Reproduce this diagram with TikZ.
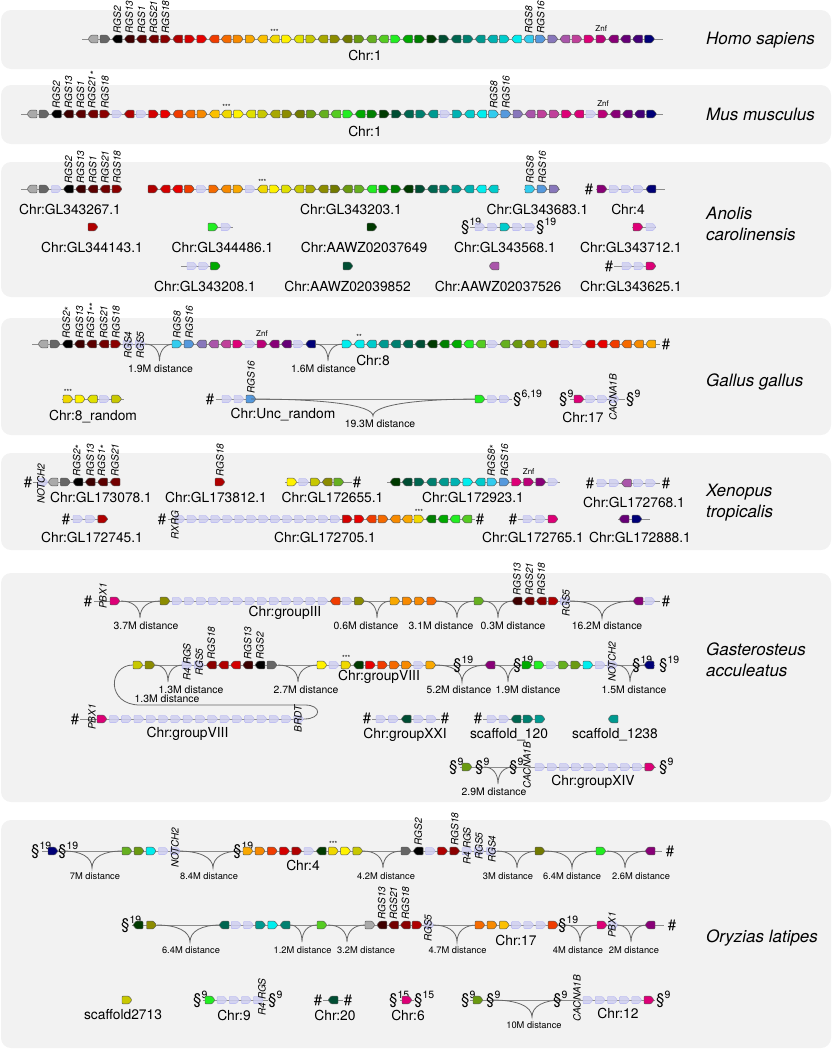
\documentclass[tikz,border=0pt]{standalone}
\usepackage{fontspec}
\setmainfont{TeX Gyre Heros}

% gene colours, ordered as on human Chr:1
\definecolor{g1}{HTML}{AAAAAA}\definecolor{g2}{HTML}{666666}\definecolor{g3}{HTML}{000000}
\definecolor{g4}{HTML}{3D0000}\definecolor{g5}{HTML}{5C0000}\definecolor{g6}{HTML}{730000}
\definecolor{g7}{HTML}{8B0000}\definecolor{g8}{HTML}{B00000}\definecolor{g9}{HTML}{D40000}
\definecolor{g10}{HTML}{E80000}\definecolor{g11}{HTML}{F03C00}\definecolor{g12}{HTML}{F56A00}
\definecolor{g13}{HTML}{F78A00}\definecolor{g14}{HTML}{F9A800}\definecolor{g15}{HTML}{FBC000}
\definecolor{g16}{HTML}{F0D800}\definecolor{g17}{HTML}{FFF200}\definecolor{g18}{HTML}{E0E000}
\definecolor{g19}{HTML}{C8C800}\definecolor{g20}{HTML}{A8A800}\definecolor{g21}{HTML}{8C8C00}
\definecolor{g22}{HTML}{727A00}\definecolor{g23}{HTML}{6A9A10}\definecolor{g24}{HTML}{66B020}
\definecolor{g25}{HTML}{55CC22}\definecolor{g26}{HTML}{22EE22}\definecolor{g27}{HTML}{00AA00}
\definecolor{g28}{HTML}{008000}\definecolor{g29}{HTML}{003A00}\definecolor{g30}{HTML}{004D33}
\definecolor{g31}{HTML}{006650}\definecolor{g32}{HTML}{008070}\definecolor{g33}{HTML}{009A90}
\definecolor{g34}{HTML}{00B2B2}\definecolor{g35}{HTML}{00CCCC}\definecolor{g36}{HTML}{00EEEE}
\definecolor{g37}{HTML}{33CCEE}\definecolor{g38}{HTML}{5599DD}\definecolor{g39}{HTML}{8877BB}
\definecolor{g40}{HTML}{AA55AA}\definecolor{g41}{HTML}{C0409A}\definecolor{g42}{HTML}{DD0077}
\definecolor{g43}{HTML}{BB0077}\definecolor{g44}{HTML}{880077}\definecolor{g45}{HTML}{660077}
\definecolor{g46}{HTML}{440077}\definecolor{g47}{HTML}{000077}
\definecolor{gh}{HTML}{CFCFF0}
\definecolor{panelgray}{HTML}{F2F2F2}
\definecolor{linegray}{HTML}{8C8C8C}
\definecolor{bracegray}{HTML}{666666}

% a row of genes: start x, y, pitch, list (colour index, minus = reverse, 0 = missing)
\newcommand{\genes}[4]{%
  \foreach \c [count=\i from 0] in {#4}{%
    \pgfmathsetmacro{\gx}{#1+\i*#3}%
    \pgfmathtruncatemacro{\ga}{abs(\c)}%
    \pgfmathtruncatemacro{\gs}{\c<0 ? -1 : 1}%
    \ifnum\ga=0
      \path[ghost] ({\gx-5},{#2-3.6}) -- ({\gx+2},{#2-3.6}) -- ({\gx+5},#2)
        -- ({\gx+2},{#2+3.6}) -- ({\gx-5},{#2+3.6}) -- cycle;
    \else
      \path[gene, fill=g\ga] ({\gx-5*\gs},{#2-3.8}) -- ({\gx+2*\gs},{#2-3.8}) -- ({\gx+5*\gs},#2)
        -- ({\gx+2*\gs},{#2+3.8}) -- ({\gx-5*\gs},{#2+3.8}) -- cycle;
    \fi}}
\newcommand{\glab}[3]{\node[glabel] at (#1,{#2-5}) {#3};}
\newcommand{\gmid}[3]{\node[gname] at (#1,#2) {#3};}
\newcommand{\starmark}[3]{\node[tiny] at (#1,{#2-7}) {#3};}
\newcommand{\znf}[2]{\node[tiny, font=\fontsize{8}{8}\selectfont] at (#1,{#2-10}) {Znf};}
\newcommand{\secmark}[3]{\node[sym, anchor=base west] at ({#1-4},{#2+4}) {§\textsuperscript{#3}};}
\newcommand{\hashmark}[2]{\node[sym, anchor=base] at (#1,{#2+5}) {\#};}
\newcommand{\lst}{\raisebox{-0.45ex}{*}}
\newcommand{\lsst}{\raisebox{-0.45ex}{**}}
% x1, cusp x, x2, y, label x, label
\newcommand{\distbrace}[6]{%
  \draw[brace] (#1,#4) .. controls ({#1+0.6*(#2-#1)},#4) and (#2,{#4+6}) .. (#2,{#4+17})
    .. controls (#2,{#4+6}) and ({#3-0.6*(#3-#2)},#4) .. (#3,#4);
  \node[dlabel] at (#5,{#4+25}) {#6};}

\begin{document}
\begin{tikzpicture}[x=1pt, y=-1pt,
  panel/.style={fill=panelgray, rounded corners=10pt},
  chline/.style={draw=linegray, line width=0.7pt},
  gene/.style={draw=black!65, line width=0.45pt, rounded corners=0.8pt},
  ghost/.style={fill=gh, fill opacity=0.85, draw=gh!85!blue, line width=0.3pt, rounded corners=0.8pt},
  chr/.style={font=\fontsize{13.8}{15}\selectfont, inner sep=0pt},
  sp/.style={font=\fontsize{17}{21}\selectfont\itshape, anchor=west, inner sep=0pt},
  gname/.style={font=\fontsize{10}{10}\selectfont\itshape, rotate=90, inner sep=0.5pt},
  glabel/.style={gname, anchor=west},
  dlabel/.style={font=\fontsize{10.4}{11}\selectfont, inner sep=0pt},
  brace/.style={draw=bracegray, line width=0.8pt},
  sym/.style={font=\fontsize{15}{15}\selectfont, inner sep=0pt},
  tiny/.style={font=\fontsize{7}{7}\selectfont, inner sep=0pt}]
\useasboundingbox (0,0) rectangle (832,1050);
\foreach \ya/\yb in {10/69,85/144,162/297,318/435,453/550,573/802,820/1048}
  \fill[panel] (1,\ya) rectangle (831,\yb);

% Homo sapiens
\draw[chline] (82,39) -- (663,39);
\genes{93}{39}{12.1}{-1,2,-3,-4,-5,-6,7,-8,9,10,-11,-12,13,14,-15,-16,17,-18,19,-20,21,-22,23,-24,-25,26,-27,28,29,30,-31,32,-33,-34,35,-36,-37,38,39,-40,41,42,43,-44,-45,-46,47}
\glab{117.2}{39}{RGS2} \glab{129.3}{39}{RGS13} \glab{141.4}{39}{RGS1}
\glab{153.5}{39}{RGS21} \glab{165.6}{39}{RGS18}
\glab{528.6}{39}{RGS8} \glab{540.7}{39}{RGS16}
\starmark{274.5}{39}{***}
\znf{601.2}{39}
\node[chr] (hschr) at (365,55) {Chr:1};
\node[sp] (hs) at (706,40) {Homo sapiens};

% Mus musculus
\draw[chline] (21,114) -- (663,114);
\genes{32}{114}{12.15}{-1,2,-3,-4,-5,-6,7,0,-8,0,9,10,-11,-12,13,-15,-16,17,-18,19,-20,21,-22,23,-24,-25,26,-27,28,29,30,-31,32,-33,0,34,-35,-36,37,38,39,-40,41,41,42,-42,0,43,-44,-45,-46,47}
\glab{56.3}{114}{RGS2} \glab{68.45}{114}{RGS13} \glab{80.6}{114}{RGS1}
\glab{92.75}{114}{RGS21\lst} \glab{104.9}{114}{RGS18}
\glab{493.7}{114}{RGS8} \glab{505.85}{114}{RGS16}
\starmark{226.4}{114}{***}
\znf{603.05}{114}
\node[chr] (mmchr) at (365,131) {Chr:1};
\node[sp] (mm) at (706,114) {Mus musculus};

% Anolis carolinensis
\draw[chline] (21,189) -- (122,189);
\genes{32}{189}{12.15}{-1,2,0,-3,-4,-5,-6,7}
\glab{68.45}{189}{RGS2} \glab{80.6}{189}{RGS13} \glab{92.75}{189}{RGS1}
\glab{104.9}{189}{RGS21} \glab{117.05}{189}{RGS18}
\node[chr] (ac1) at (70,209) {Chr:GL343267.1};
\draw[chline] (148,189) -- (500,189);
\genes{153}{189}{12.15}{8,-9,-10,11,0,12,-13,14,0,-16,17,18,-19,20,-21,22,-23,24,-26,27,28,-29,30,-31,32,33,-34,-36,-35}
\starmark{262.35}{189}{***}
\node[chr] (ac2) at (351,209) {Chr:GL343203.1};
\draw[chline] (524,189) -- (560,189);
\genes{530}{189}{12.15}{37,38,39}
\glab{530}{189}{RGS8} \glab{542.15}{189}{RGS16}
\node[chr] (ac3) at (537.5,209) {Chr:GL343683.1};
\hashmark{589}{189}
\draw[chline] (596,189) -- (665,189);
\genes{602}{189}{12.2}{44,0,0,0,-47}
\node[chr] (ac4) at (628,209) {Chr:4};
\genes{93}{227}{12}{8}
\node[chr] (ac5) at (92,247) {Chr:GL344143.1};
\draw[chline] (209,227) -- (233,227);
\genes{213}{227}{13}{26,0}
\node[chr] (ac6) at (222.5,247) {Chr:GL344486.1};
\genes{372}{227}{12}{29}
\node[chr] (ac7) at (364,247) {Chr:AAWZ02037649};
\secmark{465}{227}{19}
\draw[chline] (470,227) -- (534,227);
\genes{480}{227}{12.5}{0,0,35,0,0}
\secmark{540}{227}{19}
\node[chr] (ac8) at (505,247) {Chr:GL343568.1};
\draw[chline] (632,227) -- (656,227);
\genes{638}{227}{13}{42,0}
\node[chr] (ac9) at (631,247) {Chr:GL343712.1};
\draw[chline] (181,266) -- (220,266);
\genes{192}{266}{11.7}{0,0,27}
\node[chr] (ac10) at (205,286) {Chr:GL343208.1};
\genes{348}{266}{12}{30}
\node[chr] (ac11) at (347.5,286) {Chr:AAWZ02039852};
\genes{494}{266}{12}{-40}
\node[chr] (ac12) at (498,286) {Chr:AAWZ02037526};
\hashmark{609}{266}
\draw[chline] (614,266) -- (656,266);
\genes{627}{266}{12}{0,0,42}
\node[chr] (ac13) at (631,286) {Chr:GL343625.1};
\node[sp, align=left] (ac) at (706,223.5) {Anolis\\carolinensis};

% Gallus gallus
\draw[chline] (32,344) -- (660,344);
\genes{43}{344}{12.15}{-1,2,-3,-4,-5,-6,7,0,0}
\glab{67.3}{344}{RGS2\lst} \glab{79.45}{344}{RGS13} \glab{91.6}{344}{RGS1\lsst}
\glab{103.75}{344}{RGS21} \glab{115.9}{344}{RGS18}
\gmid{128.05}{345}{RGS4} \gmid{140.2}{345}{RGS5}
\distbrace{145}{159.5}{174}{344}{160.5}{1.9M distance}
\genes{177}{344}{12.15}{37,38,-39,-40,-41,42,0,43,-44,-45,0,-47}
\glab{177}{344}{RGS8} \glab{189.15}{344}{RGS16}
\znf{262}{344}
\distbrace{315}{328}{343}{344}{323.5}{1.6M distance}
\genes{347}{344}{12.15}{36,-36,-35,-33,-32,-31,-30,-29,-28,-27,-26,-25,0,-24,-23,-21,-20,-8,0,0,-9,-10,-11,-12,-13,-14}
\starmark{359.15}{344}{**}
\node[chr] (gg1) at (373,360) {Chr:8};
\hashmark{666}{344}
\draw[chline] (62,399) -- (124,399);
\genes{68}{399}{12.15}{16,17,-18,0,19}
\starmark{68}{399}{***}
\node[chr] (gg2) at (93,417) {Chr:8\_random};
\hashmark{210}{399}
\draw[chline] (216,399) -- (512,399);
\genes{227}{399}{12}{0,0,38}
\glab{251}{399}{RGS16}
\distbrace{251}{373}{480}{399}{380}{19.3M distance}
\genes{480}{399}{12.3}{26,0,0}
\secmark{517}{399}{6,19}
\node[chr] (gg3) at (283,415) {Chr:Unc\_random};
\secmark{563}{399}{9}
\draw[chline] (570,399) -- (625,399);
\genes{579}{399}{11.7}{42,0,0,0}
\gmid{613}{397}{CACNA1B}
\secmark{630}{399}{9}
\node[chr] (gg4) at (583,417) {Chr:17};
\node[sp] (gg) at (706,382) {Gallus gallus};

% Xenopus tropicalis
\hashmark{28}{482}
\draw[chline] (33,482) -- (120,482);
\genes{43}{482}{12}{0}
\gmid{41}{484}{NOTCH2}
\genes{53}{482}{12.4}{-1,2,-3,-4,-5,-6}
\glab{77.8}{482}{RGS2\lst} \glab{90.2}{482}{RGS13}
\glab{102.6}{482}{RGS1\lst} \glab{115}{482}{RGS21}
\node[chr] (xt1) at (101,497) {Chr:GL173078.1};
\genes{220}{482}{12}{8}
\glab{220}{482}{RGS18}
\node[chr] (xt2) at (216,497) {Chr:GL173812.1};
\draw[chline] (285,482) -- (352,482);
\genes{292}{482}{11.7}{17,0,19,-21,24}
\hashmark{357}{482}
\node[chr] (xt3) at (332.5,497) {Chr:GL172655.1};
\draw[chline] (387,482) -- (560,482);
\genes{395}{482}{12.15}{-29,-30,31,-32,-33,34,36,-35,37,38,42,43,44,0}
\glab{492.2}{482}{RGS8\lst} \glab{504.35}{482}{RGS16}
\znf{528.65}{482}
\node[chr] (xt4) at (473,497) {Chr:GL172923.1};
\hashmark{590}{483}
\draw[chline] (596,483) -- (660,483);
\genes{602}{483}{12.2}{0,0,-40,0,0}
\hashmark{666}{483}
\node[chr] (xt5) at (634,502) {Chr:GL172768.1};
\hashmark{66}{519}
\draw[chline] (71,519) -- (108,519);
\genes{78}{519}{12.4}{0,0,8}
\node[chr] (xt6) at (92,537) {Chr:GL172745.1};
\hashmark{162}{519}
\draw[chline] (168,519) -- (475,519);
\genes{180}{519}{11.95}{0,0,0,0,0,0,0,0,0,0,0,0,0,0,9,10,-11,12,-13,-14,16,-28,-27,-26,-25}
\gmid{175}{525}{RXRG}
\starmark{419}{519}{***}
\hashmark{480}{519}
\node[chr] (xt7) at (325,537) {Chr:GL172705.1};
\hashmark{513}{519}
\draw[chline] (518,519) -- (558,519);
\genes{528}{519}{12.5}{0,0,42}
\node[chr] (xt8) at (533,537) {Chr:GL172765.1};
\draw[chline] (618,519) -- (650,519);
\genes{624}{519}{13}{-45,47}
\node[chr] (xt9) at (640,537) {Chr:GL172888.1};
\node[sp, align=left] (xt) at (706,502.5) {Xenopus\\tropicalis};

% Gasterosteus acculeatus
\hashmark{88}{601}
\draw[chline] (94,601) -- (660,601);
\gmid{103}{596}{PBX1}
\genes{115}{601}{12}{42}
\distbrace{121}{140}{160}{601}{146}{3.7M distance}
\genes{165}{601}{12.15}{21,0,0,0,0,0,0,0,0,0,0,0,0,0,-11,0,21}
\distbrace{364}{377}{391}{601}{366}{0.6M distance}
\genes{395}{601}{12.3}{14,13,13,12}
\distbrace{437}{457}{475}{601}{441}{3.1M distance}
\genes{479}{601}{12}{24}
\distbrace{483}{498}{513}{601}{513}{0.3M distance}
\genes{517}{601}{12.15}{-4,-6,-7,8,0}
\glab{517}{601}{RGS13} \glab{529.15}{601}{RGS21} \glab{541.3}{601}{RGS18}
\gmid{566}{603}{RGS5}
\distbrace{570}{602}{634}{601}{607}{16.2M distance}
\genes{638}{601}{12}{-44,0}
\hashmark{666}{601}
\node[chr] (ga1) at (285,613) {Chr:groupIII};
\draw[chline] (133,665) -- (655,665);
\genes{138}{665}{12}{19,21}
\distbrace{155}{168}{183}{665}{191}{1.3M distance}
\genes{187}{665}{12.15}{0,0,-7,-8,-9,-4,-3,2}
\gmid{187}{662}{R4 RGS} \gmid{199.15}{662}{RGS5}
\glab{211.3}{665}{RGS18} \glab{247.75}{665}{RGS13} \glab{259.9}{665}{RGS2}
\distbrace{278}{298}{318}{665}{306}{2.7M distance}
\genes{322}{665}{12.1}{17,0,16,-29,10,11,12,13,0,14}
\starmark{346.2}{665}{***}
\node[chr] (ga2) at (379,677) {Chr:groupVIII};
\distbrace{436}{462}{487}{665}{459}{5.2M distance}
\secmark{457}{665}{19}
\genes{490}{665}{12}{-44}
\distbrace{494}{508}{522}{665}{528}{1.9M distance}
\secmark{517}{665}{19}
\genes{527}{665}{12.2}{27,26,0,24,23,36,0,0}
\gmid{612}{662}{NOTCH2}
\distbrace{616}{630}{645}{665}{634}{1.5M distance}
\secmark{636}{665}{19}
\genes{649}{665}{12}{-47}
\secmark{663}{665}{19}
\draw[brace] (133,665) .. controls (108,665) and (106,705) .. (140,705) -- (305,705)
  .. controls (322,705) and (322,719) .. (304,719);
\node[dlabel] (ga13) at (167,699) {1.3M distance};
\hashmark{75}{719}
\draw[chline] (80,719) -- (304,719);
\gmid{92}{717}{PBX1}
\genes{102}{719}{12.3}{42,0,0,0,0,0,0,0,0,0,0,0,0,0,0,0,0}
\gmid{298}{719}{BRDT}
\node[chr] (ga3) at (187.5,734) {Chr:groupVIII};
\hashmark{367}{718}
\draw[chline] (372,719) -- (440,719);
\genes{381}{719}{12.6}{0,0,-30,0,0}
\hashmark{445}{718}
\node[chr] (ga4) at (405,735) {Chr:groupXXI};
\hashmark{478}{718}
\draw[chline] (483,719) -- (545,719);
\genes{492}{719}{12}{0,0,-31,32,33}
\node[chr] (ga5) at (509,735) {scaffold\_120};
\genes{613}{719}{12}{-33}
\node[chr] (ga6) at (615,735) {scaffold\_1238};
\secmark{453}{767}{9}
\draw[chline] (460,767) -- (656,767);
\genes{467}{767}{12}{23}
\secmark{479}{767}{9}
\distbrace{484}{498}{513}{767}{494}{2.9M distance}
\secmark{513}{767}{9}
\gmid{527}{765}{CACNA1B}
\genes{540}{767}{12.2}{0,0,0,0,0,0,0,0,0,42}
\secmark{663}{767}{9}
\node[chr] (ga7) at (593,782) {Chr:groupXIV};
\node[sp, align=left] (ga) at (706,659.5) {Gasterosteus\\acculeatus};

% Oryzias latipes
\begin{scope}[dlabel/.append style={font=\fontsize{9.3}{10}\selectfont}]
\secmark{35}{851}{19}
\draw[chline] (42,851) -- (662,851);
\genes{53}{851}{12}{47}
\secmark{62}{851}{19}
\distbrace{64}{92}{122}{851}{95}{7M distance}
\genes{127}{851}{12.1}{24,23,36,0,0}
\gmid{175}{848}{NOTCH2}
\distbrace{178}{213}{240}{851}{209}{8.4M distance}
\secmark{237}{851}{19}
\genes{248}{851}{12.2}{14,13,11,9,8,0,-29,16,17,19}
\starmark{333.2}{851}{***}
\distbrace{363}{383}{402}{851}{386}{4.2M distance}
\genes{406}{851}{12.2}{2,-3,0,8,7,0,0,0}
\glab{418.2}{851}{RGS2} \glab{454.8}{851}{RGS18}
\gmid{467}{846}{R4 RGS} \gmid{479}{846}{RGS5} \gmid{492}{849}{RGS4}
\distbrace{497}{517}{538}{851}{508}{3M distance}
\genes{540}{851}{12}{22}
\distbrace{545}{572}{597}{851}{572}{6.4M distance}
\genes{601}{851}{12}{26}
\distbrace{607}{625}{647}{851}{641}{2.6M distance}
\genes{650}{851}{12}{-44}
\hashmark{670}{851}
\node[chr] (ol1) at (303,865) {Chr:4};
\secmark{125}{925}{19}
\draw[chline] (132,925) -- (664,925);
\genes{138}{925}{13.5}{-29,21}
\distbrace{157}{190}{220}{925}{191}{6.4M distance}
\genes{224}{925}{12.2}{-31,0,0,33,36,-32}
\distbrace{290}{302}{317}{925}{302.5}{1.2M distance}
\genes{322}{925}{12}{25}
\distbrace{328}{347}{365}{925}{366}{3.2M distance}
\genes{370}{925}{11.8}{1,-4,-6,-7,8,0}
\glab{381.8}{925}{RGS13} \glab{393.6}{925}{RGS21} \glab{405.4}{925}{RGS18}
\gmid{428}{928}{RGS5}
\distbrace{433}{457}{477}{925}{457.5}{4.7M distance}
\genes{480}{925}{12.2}{12,13,15,0,0,0,11}
\node[chr] (ol2) at (516,940) {Chr:17};
\secmark{562}{925}{19}
\distbrace{565}{580}{598}{925}{578}{4M distance}
\genes{602}{925}{11}{42,0}
\gmid{612}{925}{PBX1}
\distbrace{617}{631}{647}{925}{634}{2M distance}
\genes{650}{925}{12}{-44}
\hashmark{672}{925}
\genes{127}{1000}{12}{19}
\node[chr] (ol3) at (123,1015) {scaffold2713};
\secmark{197}{1000}{9}
\draw[chline] (203,1000) -- (268,1000);
\genes{210}{1000}{12.1}{26,0,0,0,0}
\gmid{262}{997}{R4 RGS}
\secmark{272}{1000}{9}
\node[chr] (ol4) at (234,1015) {Chr:9};
\hashmark{318}{1000}
\draw[chline] (323,1000) -- (343,1000);
\genes{333}{1000}{12}{-30}
\hashmark{348}{1000}
\node[chr] (ol5) at (335,1015) {Chr:20};
\secmark{393}{1000}{15}
\draw[chline] (400,1000) -- (414,1000);
\genes{407}{1000}{12}{42}
\secmark{418}{1000}{15}
\node[chr] (ol6) at (408,1015) {Chr:6};
\secmark{465}{1000}{9}
\draw[chline] (470,1000) -- (655,1000);
\genes{478}{1000}{12}{23}
\secmark{490}{1000}{9}
\distbrace{493}{532}{562}{1000}{534}{10M distance}
\secmark{557}{1000}{9}
\gmid{577}{998}{CACNA1B}
\genes{588}{1000}{12.2}{0,0,0,0,0,42}
\secmark{660}{1000}{9}
\node[chr] (ol7) at (618,1013) {Chr:12};
\end{scope}
\node[sp] (ol) at (706,938) {Oryzias latipes};
\end{tikzpicture}
\end{document}
